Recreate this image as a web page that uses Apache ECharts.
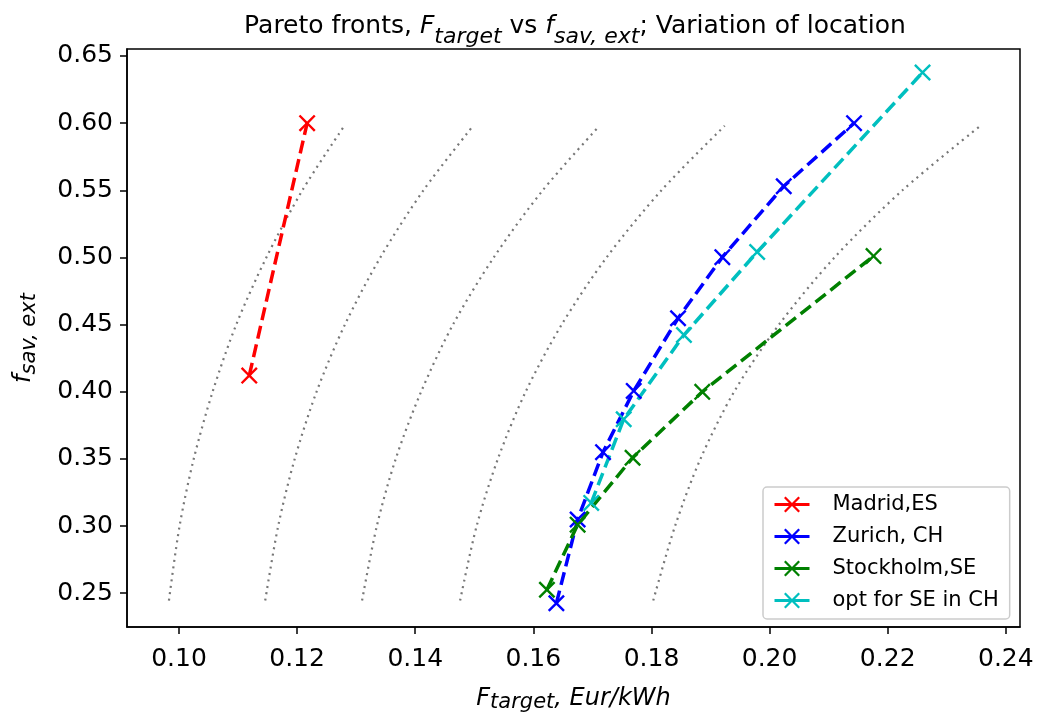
<!DOCTYPE html>
<html>
<head>
<meta charset="utf-8">
<script src="https://cdn.jsdelivr.net/npm/echarts@6/dist/echarts.min.js"></script>
<style>
  html, body { margin: 0; padding: 0; background: #fff; }
  #main { width: 1038px; height: 712px; }
</style>
</head>
<body>
<div id="main"></div>
<script>
// values
const madridX = [0.1119, 0.1217]
const madridY = [0.412, 0.600]
const zurichX = [0.1639, 0.1675, 0.1718, 0.1770, 0.1845, 0.1920, 0.2024, 0.2143]
const zurichY = [0.2425, 0.3048, 0.3550, 0.4006, 0.4547, 0.5002, 0.5530, 0.6000]
const stockholmX = [0.1623, 0.1675, 0.1768, 0.1886, 0.2176]
const stockholmY = [0.2525, 0.3010, 0.3508, 0.3999, 0.5010]
const optX = [0.1698, 0.1753, 0.1855, 0.1979, 0.2259]
const optY = [0.3172, 0.3795, 0.4422, 0.5040, 0.6377]

// grey dotted iso-curves, all sampled at the same heights
const isoY = [0.2445, 0.30, 0.35, 0.40, 0.45, 0.50, 0.55, 0.598]
const iso1X = [0.0983, 0.1001, 0.1025, 0.1057, 0.1097, 0.1148, 0.1209, 0.1280]
const iso2X = [0.1146, 0.1168, 0.1196, 0.1233, 0.1281, 0.1341, 0.1414, 0.1498]
const iso3X = [0.1310, 0.1335, 0.1367, 0.1410, 0.1464, 0.1533, 0.1616, 0.1712]
const iso4X = [0.1476, 0.1504, 0.1540, 0.1587, 0.1648, 0.1724, 0.1817, 0.1924]
const iso5X = [0.1803, 0.1840, 0.1883, 0.1940, 0.2016, 0.2110, 0.2225, 0.2357]

const xTicks = [0.10, 0.12, 0.14, 0.16, 0.18, 0.20, 0.22, 0.24]
const yTicks = [0.25, 0.30, 0.35, 0.40, 0.45, 0.50, 0.55, 0.60, 0.65]

const font = 'DejaVu Sans'
const xMark = 'path://M0,1L1,0L5,4L9,0L10,1L6,5L10,9L9,10L5,6L1,10L0,9L4,5Z'

const zip = (xs, ys) => xs.map((x, i) => [x, ys[i]])

// main text, italic math, and subscript (pushed down with top padding)
const makeRich = (size, subSize, drop) => ({
    n: { fontFamily: font, fontSize: size, fontWeight: 'normal', color: '#000' },
    i: { fontFamily: font, fontSize: size, fontWeight: 'normal', fontStyle: 'italic', color: '#000' },
    s: { fontFamily: font, fontSize: subSize, fontWeight: 'normal', fontStyle: 'italic', color: '#000', padding: [drop, 0, 0, 0] }
})

const frontSeries = (name, xs, ys, color) => ({
    name: name,
    type: 'line',
    data: zip(xs, ys),
    symbol: xMark,
    symbolSize: 17,
    itemStyle: { color: color },
    lineStyle: { color: color, width: 3.5, type: [13, 6] },
    z: 5
})

const isoSeries = (xs) => ({
    type: 'line',
    data: zip(xs, isoY),
    symbol: 'none',
    smooth: 0.3,
    silent: true,
    lineStyle: { color: '#777777', width: 2.2, type: [2, 4.5] },
    z: 2
})

const chart = echarts.init(document.getElementById('main'))
const option = {
    animation: false,
    backgroundColor: '#fff',
    title: {
        text: '{n|Pareto fronts, }{i|F}{s|target}{n| vs }{i|f}{s|sav, ext}{n|; Variation of location}',
        left: 575,
        textAlign: 'center',
        top: 4,
        padding: 0,
        textStyle: { fontWeight: 'normal', rich: makeRich(25, 22, 22) }
    },
    grid: {
        left: 127, right: 18, top: 49, bottom: 85,
        outerBoundsMode: 'none',
        show: true, borderColor: '#000', borderWidth: 1.5
    },
    legend: {
        data: ['Madrid,ES', 'Zurich, CH', 'Stockholm,SE', 'opt for SE in CH'],
        orient: 'vertical',
        left: 763,
        top: 487,
        itemWidth: 35,
        itemHeight: 20,
        itemGap: 11,
        padding: [7, 11, 8, 10],
        borderColor: '#cccccc',
        borderWidth: 1.5,
        borderRadius: 4,
        backgroundColor: '#fff',
        lineStyle: { type: 'solid', width: 3 },
        textStyle: { fontFamily: font, fontSize: 21, color: '#000', padding: [0, 0, 0, 18], lineHeight: 20 }
    },
    xAxis: {
        type: 'value',
        min: 0.0912,
        max: 0.2424,
        name: '{i|F}{s|target}{i|, Eur/kWh}',
        nameLocation: 'middle',
        nameGap: 57,
        nameTextStyle: { rich: makeRich(24, 21, 8) },
        splitLine: { show: false },
        axisLine: { lineStyle: { color: '#000', width: 1.5 } },
        axisTick: { customValues: xTicks, length: 7, lineStyle: { color: '#000', width: 1.5 } },
        axisLabel: {
            customValues: xTicks,
            formatter: v => v.toFixed(2),
            fontFamily: font, fontSize: 25, color: '#000', margin: 20
        }
    },
    yAxis: {
        type: 'value',
        min: 0.2248,
        max: 0.6552,
        name: '{i|f}{s|sav, ext}',
        nameLocation: 'middle',
        nameRotate: 90,
        nameGap: 87,
        nameTextStyle: { rich: makeRich(24, 21, 12) },
        splitLine: { show: false },
        axisLine: { show: true, lineStyle: { color: '#000', width: 1.5 } },
        axisTick: { show: true, customValues: yTicks, length: 7, lineStyle: { color: '#000', width: 1.5 } },
        axisLabel: {
            customValues: yTicks,
            formatter: v => v.toFixed(2),
            fontFamily: font, fontSize: 25, color: '#000', margin: 14
        }
    },
    series: [
        isoSeries(iso1X),
        isoSeries(iso2X),
        isoSeries(iso3X),
        isoSeries(iso4X),
        isoSeries(iso5X),
        frontSeries('Madrid,ES', madridX, madridY, '#ff0000'),
        frontSeries('Zurich, CH', zurichX, zurichY, '#0000ff'),
        frontSeries('Stockholm,SE', stockholmX, stockholmY, '#008000'),
        frontSeries('opt for SE in CH', optX, optY, '#00bfbf')
    ]
}
chart.setOption(option)
</script>
</body>
</html>
